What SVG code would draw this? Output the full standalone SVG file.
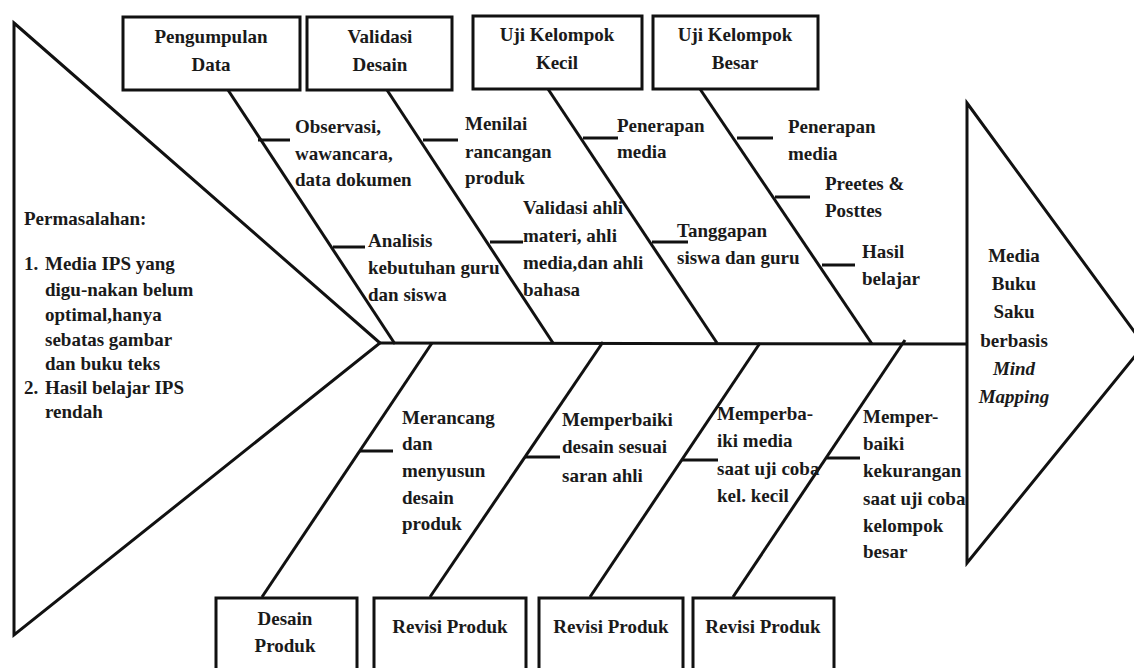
<svg xmlns="http://www.w3.org/2000/svg" width="1134" height="668" viewBox="0 0 1134 668">
<rect width="1134" height="668" fill="#fff"/>
<g id="head-left"><polygon points="14,23 380,343 14,635" fill="none" stroke="#111" stroke-width="3"/>
  <g font-family="Liberation Serif" font-size="19" font-weight="bold" fill="#1a1a1a">
  <text x="24" y="225">Permasalahan:</text>
  <text x="24" y="270">1.</text><text x="45" y="270">Media IPS yang</text>
  <text x="45" y="296">digu-nakan belum</text>
  <text x="45" y="321">optimal,hanya</text>
  <text x="45" y="346">sebatas gambar</text>
  <text x="45" y="370">dan buku teks</text>
  <text x="24" y="394">2.</text><text x="45" y="394">Hasil belajar IPS</text>
  <text x="45" y="418">rendah</text>
  </g>
</g>
<g id="head-right"><polygon points="967,103 1144,345 967,563" fill="none" stroke="#111" stroke-width="3"/>
  <g font-family="Liberation Serif" font-size="19" font-weight="bold" fill="#1a1a1a" text-anchor="middle">
  <text x="1014" y="262">Media</text>
  <text x="1014" y="290">Buku</text>
  <text x="1014" y="318">Saku</text>
  <text x="1014" y="347">berbasis</text>
  <text x="1014" y="375" font-style="italic">Mind</text>
  <text x="1014" y="403" font-style="italic">Mapping</text>
  </g>
</g>
<g id="connectors" stroke="#111" stroke-width="3" fill="none">
  <line x1="380" y1="343" x2="968" y2="344"/>
  <line x1="228" y1="90" x2="395" y2="344"/>
  <line x1="387" y1="90" x2="553" y2="343"/>
  <line x1="548" y1="89" x2="717" y2="343"/>
  <line x1="700" y1="89" x2="872" y2="344"/>
  <line x1="262" y1="597" x2="432" y2="343"/>
  <line x1="430" y1="597" x2="603" y2="342"/>
  <line x1="590" y1="597" x2="760" y2="343"/>
  <line x1="733" y1="597" x2="905" y2="340"/>
  <line x1="258" y1="140" x2="290" y2="140"/>
  <line x1="333" y1="247" x2="365" y2="247"/>
  <line x1="423" y1="140" x2="458" y2="140"/>
  <line x1="490" y1="242" x2="523" y2="242"/>
  <line x1="583" y1="138" x2="618" y2="138"/>
  <line x1="652" y1="242" x2="688" y2="242"/>
  <line x1="737" y1="138" x2="773" y2="138"/>
  <line x1="775" y1="197" x2="810" y2="197"/>
  <line x1="822" y1="265" x2="855" y2="265"/>
  <line x1="360" y1="451" x2="393" y2="451"/>
  <line x1="525" y1="457" x2="560" y2="457"/>
  <line x1="682" y1="460" x2="718" y2="460"/>
  <line x1="827" y1="458" x2="860" y2="458"/>
</g>
<g id="labels" font-family="Liberation Serif" font-size="19" font-weight="bold" fill="#1a1a1a">
  <text x="295" y="133">Observasi,</text>
  <text x="295" y="160">wawancara,</text>
  <text x="295" y="186">data dokumen</text>
  <text x="368" y="247">Analisis</text>
  <text x="368" y="274">kebutuhan guru</text>
  <text x="368" y="301">dan siswa</text>
  <text x="465" y="130">Menilai</text>
  <text x="465" y="158">rancangan</text>
  <text x="465" y="184">produk</text>
  <text x="523" y="214">Validasi ahli</text>
  <text x="523" y="242">materi, ahli</text>
  <text x="523" y="269">media,dan  ahli</text>
  <text x="523" y="296">bahasa</text>
  <text x="617" y="132">Penerapan</text>
  <text x="617" y="158">media</text>
  <text x="677" y="237">Tanggapan</text>
  <text x="677" y="264">siswa dan guru</text>
  <text x="788" y="133">Penerapan</text>
  <text x="788" y="160">media</text>
  <text x="825" y="190">Preetes &amp;</text>
  <text x="825" y="217">Posttes</text>
  <text x="862" y="258">Hasil</text>
  <text x="862" y="285">belajar</text>
  <text x="402" y="424">Merancang</text>
  <text x="402" y="450">dan</text>
  <text x="402" y="477">menyusun</text>
  <text x="402" y="504">desain</text>
  <text x="402" y="530">produk</text>
  <text x="562" y="426">Memperbaiki</text>
  <text x="562" y="453">desain sesuai</text>
  <text x="562" y="482">saran ahli</text>
  <text x="717" y="420">Memperba-</text>
  <text x="717" y="447">iki media</text>
  <text x="717" y="475">saat uji coba</text>
  <text x="717" y="502">kel. kecil</text>
  <text x="863" y="423">Memper-</text>
  <text x="863" y="450">baiki</text>
  <text x="863" y="477">kekurangan</text>
  <text x="863" y="505">saat uji coba</text>
  <text x="863" y="532">kelompok</text>
  <text x="863" y="558">besar</text>
</g>
<g stroke="#111" stroke-width="3" fill="#fff">
<g id="box-pengumpulan"><rect x="123" y="17" width="177" height="73"/></g>
<g id="box-validasi"><rect x="307" y="17" width="145" height="73"/></g>
<g id="box-uji-kecil"><rect x="473" y="16" width="169" height="73"/></g>
<g id="box-uji-besar"><rect x="653" y="16" width="165" height="73"/></g>
<g id="box-desain-produk"><rect x="216" y="598" width="141" height="80"/></g>
<g id="box-revisi-1"><rect x="374" y="598" width="152" height="80"/></g>
<g id="box-revisi-2"><rect x="539" y="598" width="144" height="80"/></g>
<g id="box-revisi-3"><rect x="693" y="598" width="141" height="80"/></g>
</g>
<g id="box-labels" font-family="Liberation Serif" font-size="19" font-weight="bold" fill="#1a1a1a" text-anchor="middle">
  <text x="211" y="43">Pengumpulan</text><text x="211" y="71">Data</text>
  <text x="380" y="43">Validasi</text><text x="380" y="71">Desain</text>
  <text x="557" y="41">Uji Kelompok</text><text x="557" y="69">Kecil</text>
  <text x="735" y="41">Uji Kelompok</text><text x="735" y="69">Besar</text>
  <text x="285" y="625">Desain</text><text x="285" y="652">Produk</text>
  <text x="450" y="633">Revisi Produk</text>
  <text x="611" y="633">Revisi Produk</text>
  <text x="763" y="633">Revisi Produk</text>
</g>
</svg>
